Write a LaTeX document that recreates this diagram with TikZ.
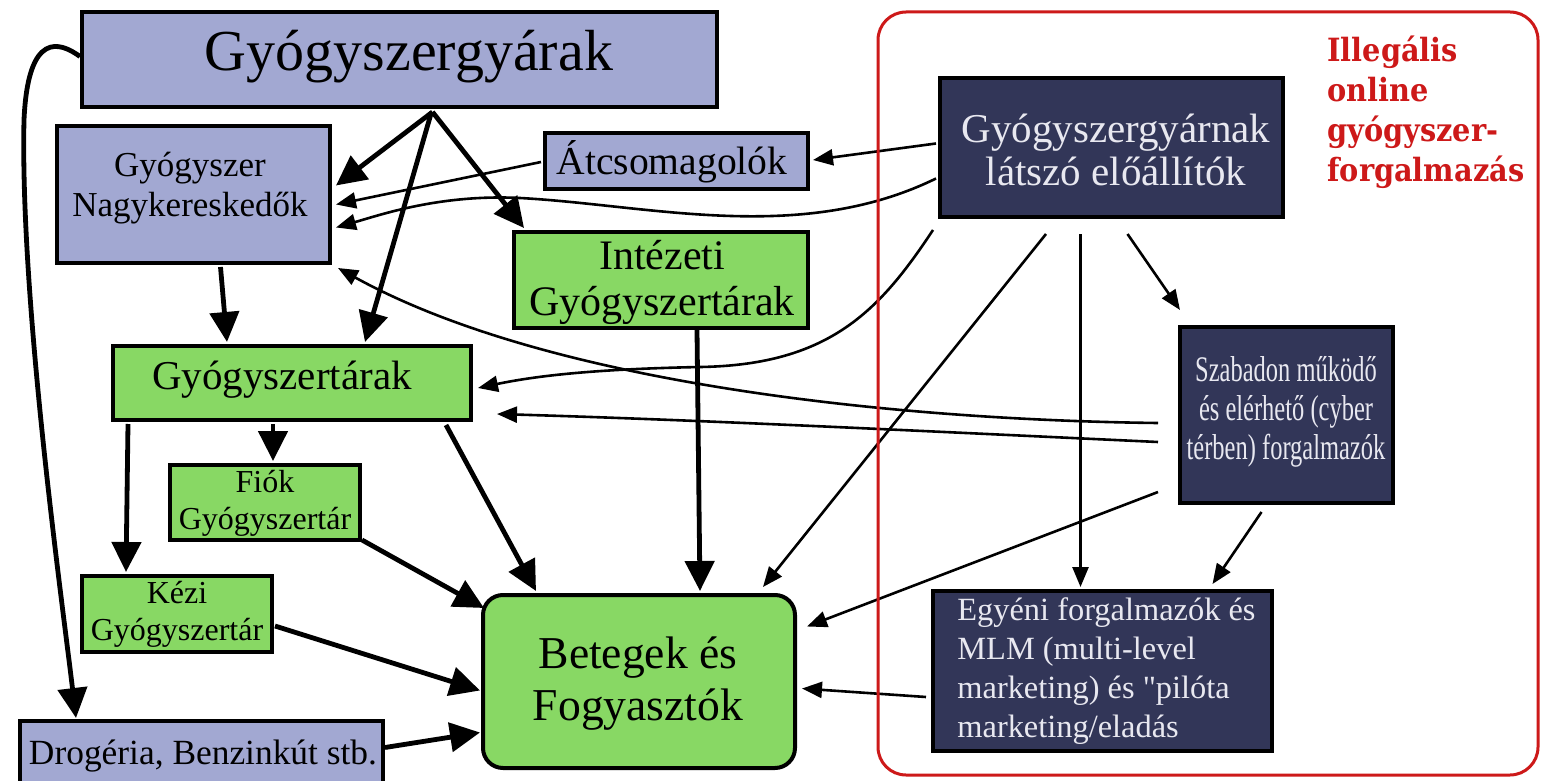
\documentclass[tikz,border=0pt]{standalone}
\usepackage{fontspec}
\setmainfont{Liberation Serif}
\newfontfamily\condfont[FakeStretch=0.68]{Liberation Serif}
\newfontfamily\egyfont[Ligatures=TeXOff]{Liberation Serif}
\newfontfamily\redfont[FakeStretch=0.9]{DejaVu Serif}
\usetikzlibrary{arrows.meta,calc}
\definecolor{lav}{RGB}{162,168,210}
\definecolor{grn}{RGB}{136,216,100}
\definecolor{navy}{RGB}{50,54,88}
\definecolor{wtext}{RGB}{232,232,240}
\definecolor{illred}{RGB}{205,25,25}
\tikzset{
  box/.style={draw=black, line width=2pt, inner sep=0pt},
  lavbox/.style={box, fill=lav},
  grnbox/.style={box, fill=grn},
  navbox/.style={box, fill=navy},
  txt/.style={inner sep=0pt, align=center, text=black},
  wtxt/.style={inner sep=0pt, align=center, text=wtext},
  bigarr/.style={line width=2.4pt, -{Triangle[length=15pt,width=14.5pt]}},
  smallarr/.style={line width=1.3pt, -{Triangle[length=10pt,width=8pt]}},
}
\begin{document}
\begin{tikzpicture}[x=0.5pt,y=-0.5pt]
\useasboundingbox (0,0) rectangle (1542,781);
\clip (0,0) rectangle (1542,781);
\fill[white] (0,0) rectangle (1542,781);

% boxes
\node[lavbox, minimum width=317.5pt, minimum height=47.5pt] (gy) at (399.5,59.5) {};
\node[lavbox, minimum width=136.5pt, minimum height=68.5pt] (nk) at (193.5,194.5) {};
\node[lavbox, minimum width=131.5pt, minimum height=28pt] (at) at (676.5,161) {};
\node[grnbox, minimum width=147pt, minimum height=48pt] (int) at (661,280) {};
\node[grnbox, minimum width=179pt, minimum height=37pt] (gyt) at (292,383) {};
\node[grnbox, minimum width=95pt, minimum height=37.5pt] (fiok) at (265,502.5) {};
\node[grnbox, minimum width=95pt, minimum height=38pt] (kezi) at (177,614) {};
\node[lavbox, minimum width=181.5pt, minimum height=34.5pt] (drog) at (201.5,755.5) {};
\node[grnbox, rounded corners=10pt, minimum width=156pt, minimum height=86.5pt] (bet) at (639,681.5) {};
\node[navbox, minimum width=171.5pt, minimum height=69.5pt] (gm) at (1111.5,147.5) {};
\node[navbox, minimum width=106.5pt, minimum height=88pt] (szab) at (1286.5,415) {};
\node[navbox, minimum width=169.5pt, minimum height=80pt] (egy) at (1102.5,671) {};

% texts
\node[txt, font=\fontsize{29}{34}\selectfont] (gyT) at (409,57) {Gyógyszergyárak};
\node[txt, font=\fontsize{17.5}{20}\selectfont] (nkT) at (190,188) {Gyógyszer\\Nagykereskedők};
\node[txt, font=\fontsize{19.8}{23}\selectfont] (atT) at (672,162) {Átcsomagolók};
\node[txt, font=\fontsize{21}{23}\selectfont] (intT) at (662,282) {Intézeti\\Gyógyszertárak};
\node[txt, font=\fontsize{20.5}{24}\selectfont] (gytT) at (282,380) {Gyógyszertárak};
\node[txt, font=\fontsize{16}{18.5}\selectfont] (fiokT) at (265,503) {Fiók\\Gyógyszertár};
\node[txt, font=\fontsize{16}{18.5}\selectfont] (keziT) at (177,614) {Kézi\\Gyógyszertár};
\node[txt, font=\fontsize{17.7}{21}\selectfont] (drogT) at (203,756) {Drogéria, Benzinkút stb.};
\node[txt, font=\fontsize{22.8}{26}\selectfont] (betT) at (638,684) {Betegek és\\Fogyasztók};
\node[wtxt, font=\fontsize{20.5}{21.5}\selectfont] (gmT) at (1116,150) {Gyógyszergyárnak\\ látszó előállítók};
\node[wtxt, font=\condfont\fontsize{18}{19.5}\selectfont] (szabT) at (1286,412) {Szabadon működő\\és elérhető (cyber\\térben) forgalmazók};
\node[wtxt, align=left, anchor=west, font=\egyfont\fontsize{16.2}{19.5}\selectfont] (egyT) at (957,671) {Egyéni forgalmazók és\\MLM (multi-level\\marketing) és "pilóta\\marketing/eladás};
\node[inner sep=0pt, align=left, anchor=north west, text=illred, font=\redfont\bfseries\fontsize{16}{20}\selectfont] (redT) at (1327,36) {Illegális\\online\\gyógyszer-\\forgalmazás};

% thick connectors
\draw[bigarr] ($(gy.south)+(33,3)$) -- ($(nk.east)+(4,-9)$);
\draw[bigarr] ($(gy.south)+(32,3)$) -- ($(gyt.north)+(73,-2)$);
\draw[bigarr] ($(gy.south)+(33,3)$) -- ($(int.north west)+(12,-2)$);
\draw[bigarr] ($(nk.south)+(27,2)$) -- ($(gyt.north)+(-65,-2)$);
\draw[bigarr] ($(gyt.south)+(-19,2)$) -- ($(fiok.north)+(8,-2)$);
\draw[bigarr] ($(gyt.south west)+(17,2)$) -- ($(kezi.north west)+(46,-2)$);
\draw[bigarr] ($(gyt.south east)+(-27,3)$) -- ($(bet.north west)+(55,-2)$);
\draw[bigarr] ($(fiok.south east)+(0,-2)$) -- ($(bet.north west)+(3,15)$);
\draw[bigarr] ($(kezi.east)+(1,12)$) -- ($(bet.west)+(-1,9)$);
\draw[bigarr] ($(drog.east)+(0,-8)$) -- ($(bet.west)+(-1,51)$);
\draw[bigarr] ($(int.south)+(36,0)$) -- ($(bet.north)+(61,-2)$);
\draw[bigarr] ($(gy.west)+(0,-3)$) .. controls (60,42) and (28,30) .. (24,120)
   .. controls (20,300) and (62,600) .. ($(drog.north west)+(58,-1)$);

% thin connectors
\draw[smallarr] ($(gm.west)+(-2,-4)$) -- ($(at.east)+(3,-1)$);
\draw[smallarr] ($(at.west)+(-2,1)$) -- ($(nk.east)+(4,10)$);
\draw[smallarr] ($(gm.west)+(-2,31)$) .. controls (800,245) and (650,205) .. (520,198)
   .. controls (440,194) and (380,215) .. ($(nk.east)+(4,33)$);
\draw[smallarr] ($(gm.south west)+(-5,11)$) .. controls (880,310) and (830,365) .. (700,367)
   .. controls (600,369) and (540,375) .. ($(gyt.east)+(5,5)$);
\draw[smallarr] ($(szab.west)+(-20,8)$) .. controls (900,420) and (550,385) .. ($(nk.south east)+(6,3)$);
\draw[smallarr] ($(szab.west)+(-20,27)$) .. controls (900,430) and (700,420) .. ($(gyt.east)+(24,31)$);
\draw[smallarr] ($(gm.south west)+(108,15)$) -- ($(bet.north east)+(-34,-6)$);
\draw[smallarr] ($(gm.south)+(-31,15)$) -- ($(egy.north)+(-22,-2)$);
\draw[smallarr] ($(gm.south)+(16,15)$) -- ($(szab.north west)+(2,-15)$);
\draw[smallarr] ($(szab.west)+(-20,77)$) -- ($(bet.east)+(10,-55)$);
\draw[smallarr] ($(szab.south)+(-25,7)$) -- ($(egy.north)+(110,-5)$);
\draw[smallarr] ($(egy.west)+(-5,26)$) -- ($(bet.east)+(5,7)$);

% illegal zone frame
\node[draw=illred, line width=1.5pt, rounded corners=14pt, minimum width=330pt, minimum height=381.5pt, inner sep=0pt] (zone) at (1208,393.5) {};
\end{tikzpicture}
\end{document}
